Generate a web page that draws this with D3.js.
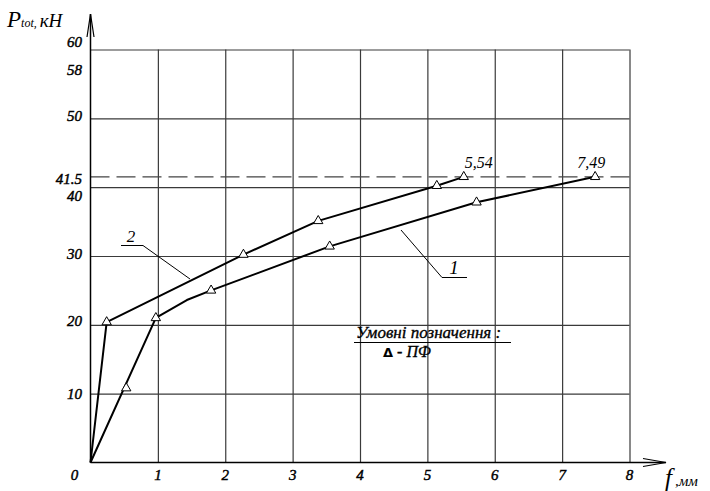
<!DOCTYPE html>
<html>
<head>
<meta charset="utf-8">
<script src="https://cdn.jsdelivr.net/npm/d3@7"></script>
<style>
  html, body { margin: 0; padding: 0; background: #fff; }
  svg { display: block; }
</style>
</head>
<body>
<svg id="chart" width="710" height="491" font-family="'Liberation Serif', 'Times New Roman', 'DejaVu Serif', serif"></svg>
<script>
// Load–deflection data, f in mm, P in kN
const xTicks = [0, 1, 2, 3, 4, 5, 6, 7, 8];
const yGridValues = [10, 20, 30, 40, 50, 60];
const yTickLabels = [
  { value: 60, text: "60" },
  { value: 58, text: "58" },
  { value: 50, text: "50" },
  { value: 41.5, text: "41.5" },
  { value: 40, text: "40" },
  { value: 30, text: "30" },
  { value: 20, text: "20" },
  { value: 10, text: "10" }
];
const limitLoad = 41.5;

// Curve 1
const series1Line = [[0, 0], [0.97, 21], [1.43, 23.6], [1.79, 25], [3.55, 31.4], [5.73, 37.8], [7.49, 41.5]];
const series1Markers = [[0.53, 10.8], [0.97, 21], [1.79, 25], [3.55, 31.4], [5.73, 37.8], [7.49, 41.5]];
// Curve 2
const series2Line = [[0, 0], [0.24, 20.4], [2.27, 30.2], [3.38, 35.1], [5.14, 40.2], [5.54, 41.5]];
const series2Markers = [[0.24, 20.4], [2.27, 30.2], [3.38, 35.1], [5.14, 40.2], [5.54, 41.5]];

const endLabels = [
  { x: 5.54, y: 41.5, text: "5,54" },
  { x: 7.49, y: 41.5, text: "7,49" }
];

const svg = d3.select("#chart");
const x = d3.scaleLinear().domain([0, 8]).range([90.5, 629.5]);
const y = d3.scaleLinear().domain([0, 60]).range([462.5, 49.5]);

// heavy italic look for the numerals and legend
const heavy = sel => sel.attr("font-style", "italic").attr("fill", "#000")
  .attr("stroke", "#000").attr("stroke-width", 0.45);

// grid
const grid = svg.append("g");
grid.append("g")
  .attr("transform", `translate(0,${y(0)})`)
  .call(d3.axisBottom(x).tickValues(xTicks.filter(d => d > 0)).tickSize(-(y(0) - y(60))).tickFormat(""))
  .call(g => g.select(".domain").remove())
  .call(g => g.selectAll("line").attr("stroke", "#3a3a3a").attr("stroke-width", 1.2));
grid.append("g")
  .attr("transform", `translate(${x(0)},0)`)
  .call(d3.axisLeft(y).tickValues(yGridValues).tickSize(-(x(8) - x(0))).tickFormat(""))
  .call(g => g.select(".domain").remove())
  .call(g => g.selectAll("line").attr("stroke", "#3a3a3a").attr("stroke-width", 1.2));

// limit load, dashed
svg.append("line")
  .attr("x1", x(0)).attr("x2", x(8))
  .attr("y1", y(limitLoad)).attr("y2", y(limitLoad))
  .attr("stroke", "#444").attr("stroke-width", 1.4)
  .attr("stroke-dasharray", "19,7");

// axes with open arrows
const axes = svg.append("g").attr("stroke", "#000").attr("fill", "none");
axes.append("line").attr("x1", x(0)).attr("y1", y(0)).attr("x2", x(0)).attr("y2", 14).attr("stroke-width", 1.5);
axes.append("path").attr("d", `M${x(0) - 3.5},37 L${x(0)},14 L${x(0) + 3.5},37`).attr("stroke-width", 1.2);
axes.append("line").attr("x1", x(0)).attr("y1", y(0)).attr("x2", 666).attr("y2", y(0)).attr("stroke-width", 1.5);
axes.append("path").attr("d", `M643,${y(0) - 4} L666,${y(0)} L643,${y(0) + 4}`).attr("stroke-width", 1.2);

// tick labels
const yNudge = { "60": -7, "58": 7, "50": -2, "41.5": 2, "40": 9, "30": -2, "20": -4, "10": 0 };
svg.append("g").selectAll("text")
  .data(yTickLabels)
  .join("text")
  .attr("x", 82)
  .attr("y", d => y(d.value) + yNudge[d.text])
  .attr("dy", "0.33em")
  .attr("text-anchor", "end")
  .attr("font-size", 15)
  .call(heavy)
  .text(d => d.text);

svg.append("g").selectAll("text")
  .data(xTicks)
  .join("text")
  .attr("x", d => d === 0 ? x(d) - 16 : x(d))
  .attr("y", 480)
  .attr("text-anchor", "middle")
  .attr("font-size", 15)
  .call(heavy)
  .text(d => d);

// axis titles
const yTitle = svg.append("text").attr("x", 7).attr("y", 27).attr("font-style", "italic");
yTitle.append("tspan").attr("font-size", 23).text("P");
yTitle.append("tspan").attr("font-size", 12).text("tot, ");
yTitle.append("tspan").attr("font-size", 19).text("кН");

const xTitle = svg.append("text").attr("x", 665).attr("y", 486).attr("font-style", "italic");
xTitle.append("tspan").attr("font-size", 25).text("f");
xTitle.append("tspan").attr("font-size", 15).attr("dx", 3).text(",мм");

// curves
const line = d3.line().x(d => x(d[0])).y(d => y(d[1]));
[series1Line, series2Line].forEach(s => {
  svg.append("path").datum(s)
    .attr("d", line)
    .attr("fill", "none")
    .attr("stroke", "#000")
    .attr("stroke-width", 2)
    .attr("stroke-linejoin", "round");
});

// triangle markers
const tri = d3.symbol().type(d3.symbolTriangle).size(38);
svg.append("g").selectAll("path")
  .data(series1Markers.concat(series2Markers))
  .join("path")
  .attr("transform", d => `translate(${x(d[0])},${y(d[1])})`)
  .attr("d", tri)
  .attr("fill", "#fff")
  .attr("stroke", "#000")
  .attr("stroke-width", 1);

// end values
const endDx = { "5,54": 15, "7,49": -4 };
svg.append("g").selectAll("text")
  .data(endLabels)
  .join("text")
  .attr("x", d => x(d.x) + endDx[d.text])
  .attr("y", d => y(d.y) - 9)
  .attr("text-anchor", "middle")
  .attr("font-size", 16)
  .attr("font-style", "italic")
  .text(d => d.text);

// curve callouts
const leaders = svg.append("g").attr("stroke", "#000").attr("stroke-width", 1).attr("fill", "none");
leaders.append("path").attr("d", "M121,245.5 L143,245.5 L190,279");
svg.append("text").attr("x", 131).attr("y", 242).attr("text-anchor", "middle")
  .attr("font-size", 17).attr("font-style", "italic").text("2");
leaders.append("path").attr("d", "M401,230 L442,277.5 L467,277.5");
svg.append("text").attr("x", 454).attr("y", 274).attr("text-anchor", "middle")
  .attr("font-size", 19).attr("font-style", "italic").text("1");

// legend
svg.append("text").attr("x", 356).attr("y", 338)
  .attr("font-size", 17).call(heavy).attr("stroke-width", 0.35)
  .text("Умовні позначення :");
svg.append("line").attr("x1", 354).attr("x2", 511).attr("y1", 342.5).attr("y2", 342.5)
  .attr("stroke", "#000").attr("stroke-width", 1);
const leg = svg.append("text").attr("x", 383).attr("y", 357).attr("font-size", 16);
leg.append("tspan").attr("font-family", "DejaVu Sans").attr("font-weight", "bold").attr("font-size", 13).text("Δ");
leg.append("tspan").call(heavy).attr("stroke-width", 0.35).text(" - ПФ");
</script>
</body>
</html>
